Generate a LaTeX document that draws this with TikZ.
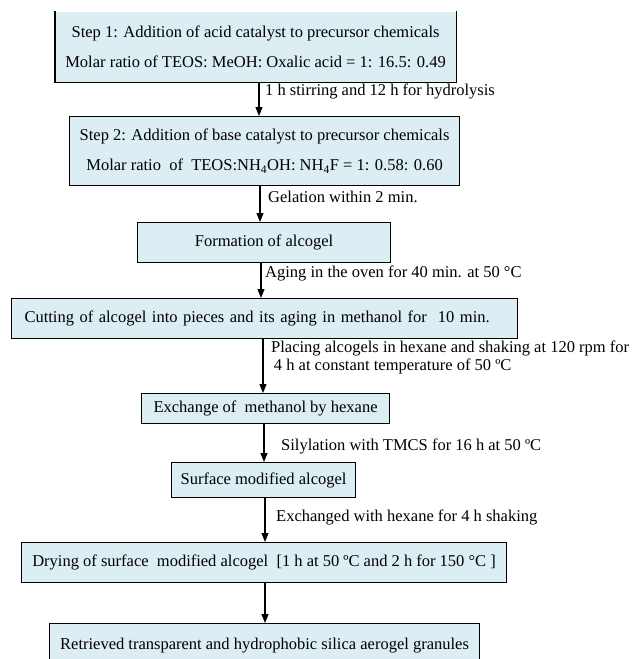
\documentclass[tikz,border=0pt]{standalone}
\usepackage{fontspec}
\setmainfont{Liberation Serif}
\usetikzlibrary{arrows.meta,calc}
\definecolor{boxfill}{RGB}{220,237,243}
\tikzset{
  x=1pt, y=-1pt,
  box/.style={fill=boxfill, draw=black, line width=1.1pt, inner sep=0pt, anchor=north west, font=\fontsize{16.5}{30}\selectfont, align=center},
  conn/.style={line width=1.1pt, -{Triangle[length=9pt,width=7pt]}},
  lbl/.style={anchor=west, inner sep=0pt, font=\fontsize{16.5}{18}\selectfont, align=left}
}
\newcommand{\bx}[6]{% name, left, top, right, bottom, text
  \node[box, minimum width=#4-#2, minimum height=#5-#3] (#1) at (#2,#3) {#6};}
\begin{document}
\begin{tikzpicture}
\clip (0,0) rectangle (632,659);
% box 1 (top edge not shown)
\node[box, draw=none, minimum width=400, minimum height=70] (b1) at (55,11) {Step 1: Addition of acid catalyst to precursor chemicals\\Molar ratio of TEOS: MeOH: Oxalic acid = 1: 16.5: 0.49};
\draw[line width=1.1pt] (b1.north west) -- (b1.south west) -- (b1.south east) -- (b1.north east);
\bx{b2}{69}{116}{459}{185}{Step 2: Addition of base catalyst to precursor chemicals\\Molar ratio~ of~ TEOS:NH\textsubscript{4}OH: NH\textsubscript{4}F = 1: 0.58: 0.60}
\bx{b3}{137}{222}{390}{262}{Formation of alcogel}
\node[box, minimum width=506, minimum height=40, text width=480, align=left, inner xsep=13pt] (b4) at (11,298) {Cutting of alcogel into pieces and its aging in methanol for~ 10 min.};
\bx{b5}{141}{393}{389}{423}{Exchange of~ methanol by hexane}
\bx{b6}{171}{462}{355}{497}{Surface modified alcogel}
\bx{b7}{21}{542}{506}{582}{Drying of surface~ modified alcogel~ [1 h at 50 ºC and 2 h for 150 °C ]}
\bx{b8}{49}{623}{479}{667}{Retrieved transparent and hydrophobic silica aerogel granules}
% connectors
\draw[conn] (b1.south -| 259,0) -- (b2.north -| 259,0);
\draw[conn] (b2.south -| 260,0) -- (b3.north -| 260,0);
\draw[conn] (b3.south -| 261,0) -- (b4.north -| 261,0);
\draw[conn] (b4.south -| 263,0) -- (b5.north -| 263,0);
\draw[conn] (b5.south -| 264,0) -- (b6.north -| 264,0);
\draw[conn] (b6.south -| 265,0) -- (b7.north -| 265,0);
\draw[conn] (b7.south -| 265,0) -- (b8.north -| 265,0);
% labels
\node[lbl] (l1) at (265,91) {1 h stirring and 12 h for hydrolysis};
\node[lbl] (l2) at (268,197) {Gelation within 2 min.};
\node[lbl] (l3) at (265,273) {Aging in the oven for 40 min. at 50 °C};
\node[lbl] (l4) at (271,357) {Placing alcogels in hexane and shaking at 120 rpm for\\\,4 h at constant temperature of 50 ºC};
\node[lbl] (l5) at (281,446) {Silylation with TMCS for 16 h at 50 ºC};
\node[lbl] (l6) at (276,517) {Exchanged with hexane for 4 h shaking};
\end{tikzpicture}
\end{document}
